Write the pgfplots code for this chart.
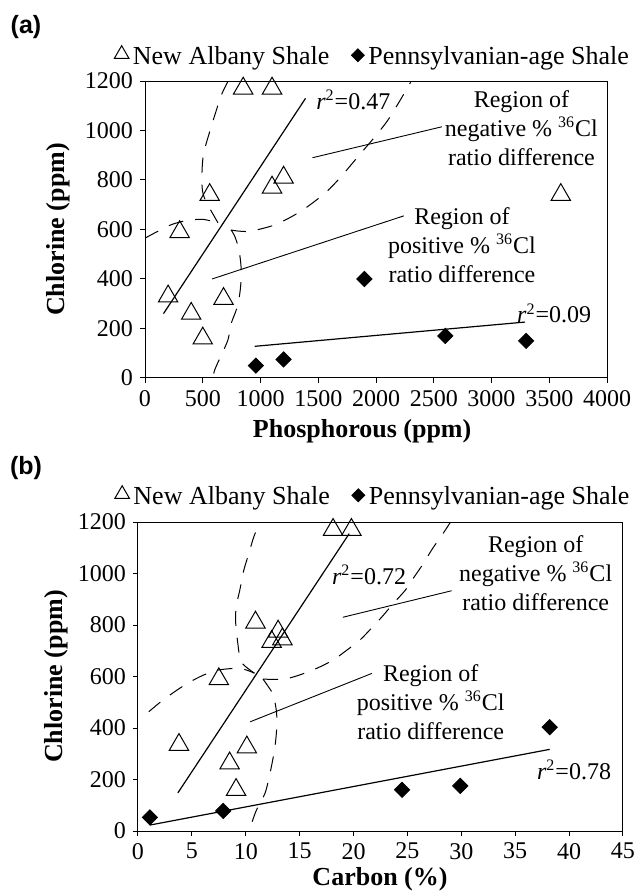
\documentclass[border=0pt]{standalone}
\usepackage{fontspec}
\setmainfont{Liberation Serif}
\setsansfont{Liberation Sans}
\usepackage{pgfplots}
\pgfplotsset{compat=1.18}

\pgfplotsset{
  shale/.style={
    scale only axis,
    ymin=0, ymax=1200,
    ytick={0,200,...,1200},
    tick align=outside, tick pos=left,
    major tick length=2.5pt,
    axis line style={line width=0.5pt},
    tick style={line width=0.5pt, black},
    /pgf/number format/assume math mode=true,
    /pgf/number format/1000 sep={},
    ticklabel style={font=\fontsize{12}{14}\selectfont},
    label style={font=\bfseries\fontsize{13}{15}\selectfont},
    ylabel={Chlorine (ppm)},
    legend columns=2,
    legend style={draw=none, fill=none, font=\fontsize{13}{15}\selectfont,
      /tikz/every even column/.append style={column sep=9pt}},
  },
  na/.style={only marks, mark=triangle, mark size=5.6pt, mark options={line width=0.5pt, fill=white},
    legend image code/.code={\draw[#1,only marks,mark size=4.2pt] plot coordinates {(0.1cm,0.05cm)};}},
  pa/.style={only marks, mark=square*, mark size=2.7pt, mark options={rotate=45, fill=black},
    legend image code/.code={\draw[#1,only marks,mark size=2.3pt] plot coordinates {(0.1cm,0.03cm)};}},
  fit/.style={black, line width=0.6pt, forget plot},
  pointer/.style={black, line width=0.45pt, forget plot},
  band/.style={black, line width=0.5pt, dash pattern=on 7.5pt off 6pt, smooth, forget plot},
}

\begin{document}
\begin{tikzpicture}[font=\fontsize{12}{14.5}\selectfont]
\path[use as bounding box] (0,0) rectangle (318.5pt,445.5pt);

\node[font=\sffamily\bfseries\fontsize{12.5}{14}\selectfont] at (13pt,432pt) {(a)};
\node[font=\sffamily\bfseries\fontsize{12.5}{14}\selectfont] at (13pt,211.5pt) {(b)};

% (a) phosphorous
\begin{axis}[shale,
  at={(72.5pt,256.5pt)}, anchor=south west,
  width=231pt, height=148.5pt,
  xmin=0, xmax=4000, xtick={0,500,...,4000},
  xlabel={Phosphorous (ppm)},
  xlabel style={at={(axis description cs:0.47,-0.199)}, anchor=base},
  ylabel style={at={(axis description cs:-0.188,0.5)}, anchor=center},
  legend style={at={(0.495,1.081)}, anchor=center},
]
\addplot[na] coordinates {
  (850,1170) (1100,1170) (560,740) (1100,770) (1200,810) (300,590)
  (200,330) (680,320) (400,260) (500,160) (3600,740)
};
\addplot[pa] coordinates {
  (960,50) (1200,75) (1900,400) (2600,170) (3300,150)
};
\legend{New Albany Shale, Pennsylvanian-age Shale}

\addplot[fit] coordinates {(160,260) (1390,1130)};
\addplot[fit] coordinates {(950,128) (3290,226)};
\addplot[pointer] coordinates {(1450,890) (2570,1015)};
\addplot[pointer] coordinates {(580,400) (2240,655)};

% confidence curves
\addplot[band] coordinates {(0,565) (100,590) (230,620) (360,636) (500,641) (632,627)};
\addplot[band] coordinates {(632,627) (560,686) (505,740) (492,800) (505,900) (560,995) (605,1063) (661,1143) (720,1200)};
\addplot[band] coordinates {(745,598) (775,575) (810,525) (830,460) (833,404) (819,335) (790,275) (747,221) (718,154) (661,93) (603,32) (590,0)};
\addplot[band] coordinates {(745,598) (800,594) (900,592) (1000,602) (1100,615) (1200,635) (1300,660) (1400,690)
  (1500,725) (1600,765) (1700,815) (1800,870) (1900,925) (2000,980) (2100,1040) (2200,1115) (2300,1195)};

\node[anchor=west, inner sep=0pt] at (axis cs:1480,1123) {\textit{r}\textsuperscript{2}=0.47};
\node[anchor=west, inner sep=0pt] at (axis cs:3219,261) {\textit{r}\textsuperscript{2}=0.09};
\node[align=center, inner sep=0pt] at (axis cs:3259,1010) {Region of\\negative \% \textsuperscript{36}Cl\\ratio difference};
\node[align=center, inner sep=0pt] at (axis cs:2744,537) {Region of\\positive \% \textsuperscript{36}Cl\\ratio difference};
\end{axis}

% (b) carbon
\begin{axis}[shale,
  at={(69pt,30pt)}, anchor=south west,
  width=242.5pt, height=154.5pt,
  xmin=0, xmax=45, xtick={0,5,...,45},
  xlabel={Carbon (\%)},
  xlabel style={at={(axis description cs:0.499,-0.175)}, anchor=base},
  ylabel style={at={(axis description cs:-0.169,0.5)}, anchor=center},
  legend style={at={(0.487,1.081)}, anchor=center},
]
\addplot[na] coordinates {
  (18.1,1170) (19.8,1170) (10.9,810) (13.0,775) (12.4,735) (13.4,745)
  (7.5,590) (3.8,335) (10.1,325) (8.5,263) (9.1,160)
};
\addplot[pa] coordinates {
  (1.1,53) (7.9,78) (24.5,160) (29.9,175) (38.2,403)
};
\legend{New Albany Shale, Pennsylvanian-age Shale}

\addplot[fit] coordinates {(3.7,148) (19.6,1155)};
\addplot[fit] coordinates {(1.1,23) (38.2,317)};
\addplot[pointer] coordinates {(19,830) (29.1,933)};
\addplot[pointer] coordinates {(10.4,424) (21.7,612)};

\addplot[band] coordinates {(1,463) (2,498) (3.4,541) (4.7,576) (6.1,606) (7.45,625) (9.2,632) (10.0,626) (10.8,613)};
\addplot[band] coordinates {(10.8,613) (9.6,655) (9.3,716) (9.05,819) (9.15,880) (9.45,936) (9.8,1010) (10.3,1080) (10.7,1137) (11.0,1169) (11.3,1200)};
\addplot[band] coordinates {(11.6,590) (12.1,560) (12.55,528) (12.85,463) (12.87,399) (12.71,327) (12.5,276) (12.18,211) (11.78,146) (11.0,82) (10.55,30) (10.4,0)};
\addplot[band] coordinates {(11.6,590) (12.25,589) (13.6,590) (15.0,606) (16.6,632) (18.1,664) (19.3,700) (20.6,742)
  (21.6,785) (22.6,830) (23.7,884) (24.8,935) (25.6,985) (26.5,1040) (27.3,1095) (28.3,1155) (29.0,1200)};

\node[anchor=west, inner sep=0pt] at (axis cs:17.97,994) {\textit{r}\textsuperscript{2}=0.72};
\node[anchor=west, inner sep=0pt] at (axis cs:36.99,237) {\textit{r}\textsuperscript{2}=0.78};
\node[align=center, inner sep=0pt] at (axis cs:36.9,1001) {Region of\\negative \% \textsuperscript{36}Cl\\ratio difference};
\node[align=center, inner sep=0pt] at (axis cs:27.16,502) {Region of\\positive \% \textsuperscript{36}Cl\\ratio difference};
\end{axis}
\end{tikzpicture}
\end{document}
